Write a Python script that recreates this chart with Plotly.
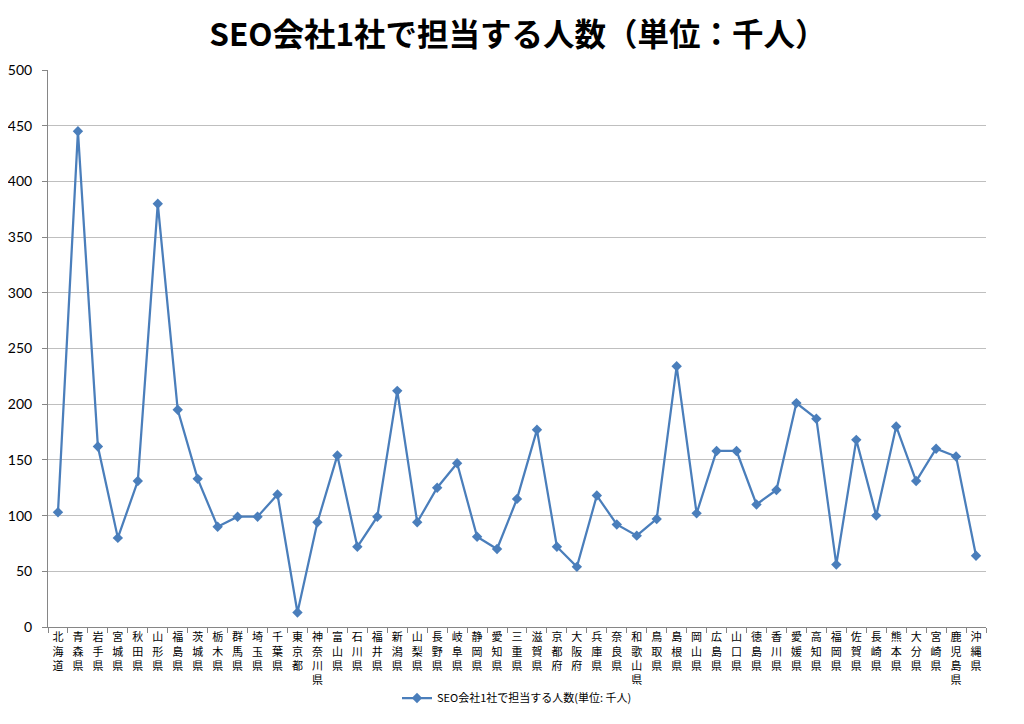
import plotly.graph_objects as go

prefectures = ["北海道", "青森県", "岩手県", "宮城県", "秋田県", "山形県", "福島県", "茨城県",
               "栃木県", "群馬県", "埼玉県", "千葉県", "東京都", "神奈川県", "富山県", "石川県",
               "福井県", "新潟県", "山梨県", "長野県", "岐阜県", "静岡県", "愛知県", "三重県",
               "滋賀県", "京都府", "大阪府", "兵庫県", "奈良県", "和歌山県", "鳥取県", "島根県",
               "岡山県", "広島県", "山口県", "徳島県", "香川県", "愛媛県", "高知県", "福岡県",
               "佐賀県", "長崎県", "熊本県", "大分県", "宮崎県", "鹿児島県", "沖縄県"]
values = [103, 445, 162, 80, 131, 380, 195, 133,
          90, 99, 99, 119, 13, 94, 154, 72,
          99, 212, 94, 125, 147, 81, 70, 115,
          177, 72, 54, 118, 92, 82, 97, 234,
          102, 158, 158, 110, 123, 201, 187, 56,
          168, 100, 180, 131, 160, 153, 64]
title_text = "SEO会社1社で担当する人数（単位：千人）"
legend_name = "SEO会社1社で担当する人数(単位: 千人)"
y_ticks = [0, 50, 100, 150, 200, 250, 300, 350, 400, 450, 500]

tick_text = ["<br>".join(list(p)) for p in prefectures]

FONT = "Lato, 'Noto Sans CJK JP', sans-serif"
CJK = "'Noto Sans CJK JP', sans-serif"
COLOR = "#4A7EBB"

fig = go.Figure()
fig.add_trace(go.Scatter(
    x=prefectures, y=values, mode="lines+markers", name=legend_name,
    line=dict(color=COLOR, width=2.25),
    marker=dict(symbol="diamond", size=8, color=COLOR),
))

fig.update_layout(
    width=1024, height=724,
    margin=dict(l=40, r=46, t=62, b=105),
    paper_bgcolor="white", plot_bgcolor="white",
    font=dict(family=FONT, size=12, color="#000000"),
    title=dict(text="<b>" + title_text + "</b>", x=0.498, xanchor="center",
               y=0.963, yanchor="middle",
               font=dict(family=CJK, size=31.5, color="#000000")),
    showlegend=True,
    legend=dict(orientation="h", x=0.5, xanchor="center", y=-0.1275, yanchor="middle",
                font=dict(family=CJK, size=11)),
    xaxis=dict(
        type="category", tickmode="array", tickvals=prefectures, ticktext=tick_text,
        range=[-0.5, len(prefectures) - 0.5], tickson="boundaries",
        ticks="outside", ticklen=5, tickcolor="#868686",
        showline=True, linecolor="#868686", linewidth=1, showgrid=False,
        tickangle=0, automargin=False,
        tickfont=dict(family=CJK, size=11),
    ),
    yaxis=dict(
        range=[0, 500], tickmode="array", tickvals=y_ticks,
        showgrid=True, gridcolor="#BFBFBF", gridwidth=1,
        showline=True, linecolor="#868686", linewidth=1,
        ticks="outside", ticklen=5, tickcolor="#868686",
        zeroline=False, automargin=False, ticklabelstandoff=7,
        tickfont=dict(size=14),
    ),
)

fig.write_html("out.html")
